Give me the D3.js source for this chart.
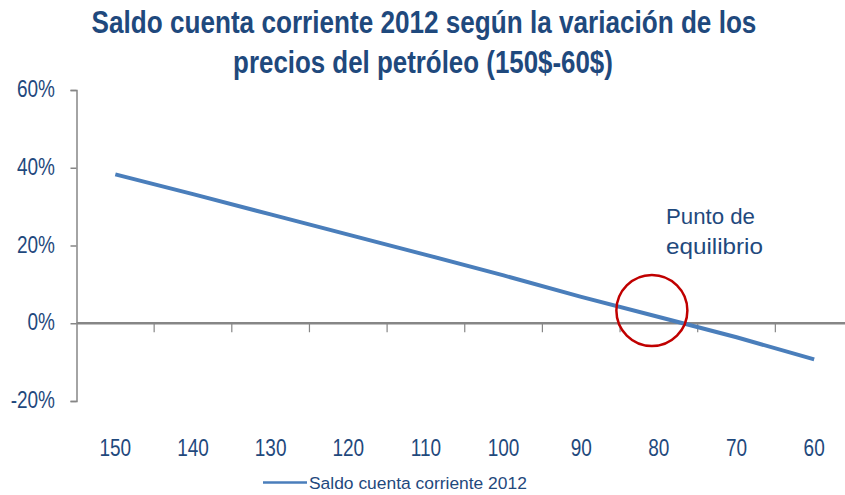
<!DOCTYPE html>
<html>
<head>
<meta charset="utf-8">
<script src="https://cdn.jsdelivr.net/npm/d3@7"></script>
<style>
  body { margin: 0; background: #fff; }
  svg { display: block; }
  text { font-family: "Liberation Sans", Arial, sans-serif; }
</style>
</head>
<body>
<svg id="chart" width="845" height="495"></svg>
<script>
// datos
const precios = ["150", "140", "130", "120", "110", "100", "90", "80", "70", "60"];
const saldo = [0.383, 0.332, 0.280, 0.228, 0.176, 0.123, 0.068, 0.016, -0.036, -0.093];
const yTicks = [-0.2, 0, 0.2, 0.4, 0.6];
const titulo = ["Saldo cuenta corriente 2012 según la variación de los", "precios del petróleo (150$-60$)"];
const nombreSerie = "Saldo cuenta corriente 2012";
const anotacion = ["Punto de", "equilibrio"];

const azulTexto = "#1f497d";
const azulLinea = "#4a7ebb";
const gris = "#868686";
const stretch = 1.3; // el original esta estirado en vertical

const svg = d3.select("#chart");

const x = d3.scaleBand().domain(precios).range([76.5, 853]).paddingInner(0).paddingOuter(0);
const y = d3.scaleLinear().domain([-0.2, 0.6]).range([401, 90]);
const xc = d => x(d) + x.bandwidth() / 2;
const pct = v => d3.format(".0%")(v).replace("−", "-");

// texto con escala vertical (y opcionalmente ancho fijo)
function texto(g, str, px, py, size, opts = {}) {
    const t = g.append("text")
        .attr("font-size", size)
        .attr("font-weight", opts.weight || "normal")
        .attr("fill", opts.fill || azulTexto)
        .attr("text-anchor", opts.anchor || "start")
        .text(str);
    let sx = 1;
    if (opts.width) sx = opts.width / t.node().getComputedTextLength();
    t.attr("transform", `translate(${px},${py}) scale(${sx},${stretch})`);
    return t;
}

// titulo
texto(svg, titulo[0], 424, 33, 24, { weight: "bold", anchor: "middle", width: 665 });
texto(svg, titulo[1], 423, 73, 24, { weight: "bold", anchor: "middle", width: 380 });

// eje Y
const yAxis = svg.append("g")
    .attr("transform", "translate(76.5,0)")
    .call(d3.axisLeft(y).tickValues(yTicks).tickSize(6).tickFormat(""));
yAxis.select(".domain").attr("stroke", gris).attr("stroke-width", 1.5);
yAxis.selectAll(".tick line").attr("stroke", gris).attr("stroke-width", 1.5);

yTicks.forEach(v => {
    texto(svg, pct(v), 55, y(v) + 7, 19, { anchor: "end" });
});

// eje X en el 0%
const xAxis = svg.append("g")
    .attr("transform", `translate(0,${y(0)})`)
    .call(d3.axisBottom(x).tickValues(precios.slice(1)).tickSize(9).tickSizeOuter(0).tickFormat(""));
xAxis.selectAll(".tick").attr("transform", d => `translate(${x(d)},0)`);
xAxis.select(".domain").attr("stroke", gris).attr("stroke-width", 2.5).attr("d", `M76.5,0H845`);
xAxis.selectAll(".tick line").attr("stroke", gris).attr("stroke-width", 1.2);

precios.forEach(p => {
    texto(svg, p, xc(p), 456, 19, { anchor: "middle" });
});

// linea
const linea = d3.line()
    .x((d, i) => xc(precios[i]))
    .y(d => y(d));

svg.append("path")
    .datum(saldo)
    .attr("fill", "none")
    .attr("stroke", azulLinea)
    .attr("stroke-width", 4)
    .attr("d", linea);

// anotacion: punto de equilibrio
svg.append("circle")
    .attr("cx", xc("80") - 7)
    .attr("cy", y(0.033))
    .attr("r", 35.5)
    .attr("fill", "none")
    .attr("stroke", "#c00000")
    .attr("stroke-width", 2.5);

texto(svg, anotacion[0], 666, 224, 17.5, { width: 89 });
texto(svg, anotacion[1], 666, 254, 17.5, { width: 97 });

// leyenda
svg.append("line")
    .attr("x1", 263).attr("x2", 307)
    .attr("y1", 482.5).attr("y2", 482.5)
    .attr("stroke", azulLinea)
    .attr("stroke-width", 2.5);
texto(svg, nombreSerie, 309, 489, 13, { width: 218 });
</script>
</body>
</html>
